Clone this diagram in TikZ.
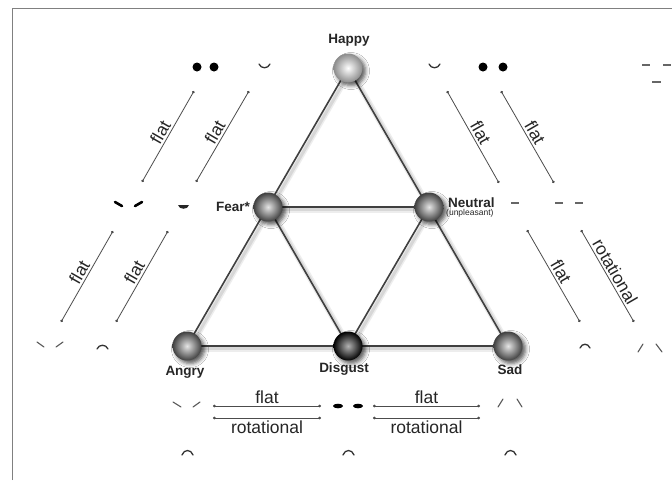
\documentclass[tikz,border=0pt]{standalone}
\usepackage{fontspec}
\setmainfont{Liberation Sans}
\usetikzlibrary{arrows.meta,shadows.blur,backgrounds}

\begin{document}
\begin{tikzpicture}[x=1pt,y=-1pt,
  ball/.style 2 args={circle,inner sep=0pt,minimum size=29pt,inner color=#1,outer color=#2,
     blur shadow={shadow xshift=3pt,shadow yshift=-3pt,shadow blur radius=4pt,shadow opacity=65}},
  emo/.style={font=\bfseries\fontsize{13.5}{15}\selectfont,text=black!85,inner sep=1pt},
  edge/.style={line width=1.6pt,draw=black!75,
     preaction={draw=black!35,line width=6pt,opacity=0.2,transform canvas={xshift=2.5pt,yshift=-2.5pt}},
     preaction={draw=black!35,line width=3pt,opacity=0.3,transform canvas={xshift=2.5pt,yshift=-2.5pt}}},
  link/.style={line width=0.8pt,draw=black!70,{Circle[length=2.6pt]}-{Circle[length=2.6pt]}},
  lbl/.style={font=\fontsize{17.5}{19}\selectfont,text=black!85,inner sep=2pt},
  feat/.style={line width=1.3pt,line cap=round,draw=black!80},
  thinfeat/.style={line width=1.1pt,line cap=round,draw=black!65},
  dashmark/.style={line width=1.4pt,draw=black!60},
]
\useasboundingbox (0,0) rectangle (672,480);
% frame
\draw[line width=1pt,draw=black!50] (12,480) -- (12,8) -- (672,8);

% emotion spheres
\node[ball={white}{black!45}] (happy) at (348,68) {};
\node[ball={gray!20}{black!75}] (fear) at (268,207) {};
\node[ball={gray!20}{black!75}] (neutral) at (429,207) {};
\node[ball={gray!20}{black!75}] (angry) at (187,346) {};
\node[ball={gray!60}{black}] (disgust) at (348,346) {};
\node[ball={gray!20}{black!75}] (sad) at (508,346) {};

% sphere labels
\node[emo] (lhappy) at (349,40) {Happy};
\node[emo,anchor=east] (lfear) at (251,207) {Fear*};
\node[emo,anchor=west,inner sep=0pt] (lneutral) at (448,203) {Neutral};
\node[font=\fontsize{8.5}{9}\selectfont,anchor=west,inner sep=0pt,text=black!85] (lunpl) at (446,213) {(unpleasant)};
\node[emo] (langry) at (185,372) {Angry};
\node[emo] (ldisgust) at (344,369) {Disgust};
\node[emo] (lsad) at (510,370) {Sad};

% triangle edges
\begin{scope}[on background layer]
  \fill[white] (0,0) rectangle (672,480);
  \draw[edge] (happy.center) -- (angry.center);
  \draw[edge] (happy.center) -- (sad.center);
  \draw[edge] (angry.center) -- (sad.center);
  \draw[edge] (fear.center) -- (neutral.center);
  \draw[edge] (fear.center) -- (disgust.center);
  \draw[edge] (neutral.center) -- (disgust.center);
\end{scope}

% transition arrows
\coordinate (tla1) at (142,182); \coordinate (tlb1) at (194,91);
\coordinate (tla2) at (196,182); \coordinate (tlb2) at (249,91);
\coordinate (mla1) at (61,322);  \coordinate (mlb1) at (113,231);
\coordinate (mla2) at (116,322); \coordinate (mlb2) at (168,231);
\coordinate (tra1) at (447,91);  \coordinate (trb1) at (499,183);
\coordinate (tra2) at (501,91);  \coordinate (trb2) at (554,183);
\coordinate (mra1) at (527,230); \coordinate (mrb1) at (580,322);
\coordinate (mra2) at (581,230); \coordinate (mrb2) at (634,322);
\coordinate (bla1) at (213,406); \coordinate (blb1) at (321,406);
\coordinate (bla2) at (213,418); \coordinate (blb2) at (321,418);
\coordinate (bra1) at (373,406); \coordinate (brb1) at (480,406);
\coordinate (bra2) at (373,418); \coordinate (brb2) at (480,418);

\draw[link] (tla1) -- node[lbl,sloped,above] {flat} (tlb1);
\draw[link] (tla2) -- node[lbl,sloped,above] {flat} (tlb2);
\draw[link] (mla1) -- node[lbl,sloped,above] {flat} (mlb1);
\draw[link] (mla2) -- node[lbl,sloped,above] {flat} (mlb2);
\draw[link] (tra1) -- node[lbl,sloped,above] {flat} (trb1);
\draw[link] (tra2) -- node[lbl,sloped,above] {flat} (trb2);
\draw[link] (mra1) -- node[lbl,sloped,above] {flat} (mrb1);
\draw[link] (mra2) -- node[lbl,sloped,above] {rotational} (mrb2);
\draw[link] (bla1) -- node[lbl,above] {flat} (blb1);
\draw[link] (bla2) -- node[lbl,below] {rotational} (blb2);
\draw[link] (bra1) -- node[lbl,above] {flat} (brb1);
\draw[link] (bra2) -- node[lbl,below] {rotational} (brb2);

% facial feature sketches
% top left: eyes and smile
\fill[black] (197,67) circle[radius=4.5];
\fill[black] (214,67) circle[radius=4.5];
\draw[feat] (259,64) .. controls (261,69) and (268,69) .. (270,64);
% top right: smile and eyes
\draw[feat] (429,64) .. controls (431,69) and (438,69) .. (440,64);
\fill[black] (483,67) circle[radius=4.5];
\fill[black] (503,67) circle[radius=4.5];
% far top right: neutral eyes and mouth
\draw[dashmark] (642,65) -- (650,65);
\draw[dashmark] (663,65) -- (671,65);
\draw[dashmark] (652,82) -- (661,82);
% middle left: slanted eyes and mouth
\draw[line width=2.6pt,line cap=round,black] (115,202) -- (122,206);
\draw[line width=2.6pt,line cap=round,black] (135,206) -- (142,202);
\fill[black!85] (178,205) -- (189,205) .. controls (188,210) and (179,210) .. cycle;
% middle right: neutral mouth and eyes
\draw[dashmark] (511,203) -- (519,203);
\draw[dashmark] (555,203) -- (563,203);
\draw[dashmark] (575,203) -- (583,203);
% bottom left: brows and frown
\draw[thinfeat] (37,342) -- (44,347);
\draw[thinfeat] (56,347) -- (63,342);
\draw[feat] (97,349) .. controls (99,344) and (106,344) .. (108,349);
% bottom right: frown and brows
\draw[feat] (580,348) .. controls (582,343) and (588,343) .. (590,348);
\draw[thinfeat] (638,352) -- (643,344);
\draw[thinfeat] (656,344) -- (662,352);
% bottom row
\draw[thinfeat] (173,402) -- (181,407);
\draw[thinfeat] (193,407) -- (200,402);
\fill[black] (338,406) ellipse[x radius=5,y radius=2.3];
\fill[black] (358,406) ellipse[x radius=5,y radius=2.3];
\draw[thinfeat] (498,407) -- (503,399);
\draw[thinfeat] (517,399) -- (522,407);
\draw[feat] (182,455) .. controls (184,449) and (191,449) .. (193,455);
\draw[feat] (343,455) .. controls (345,449) and (352,449) .. (354,455);
\draw[feat] (505,455) .. controls (507,449) and (514,449) .. (516,455);
\end{tikzpicture}
\end{document}
